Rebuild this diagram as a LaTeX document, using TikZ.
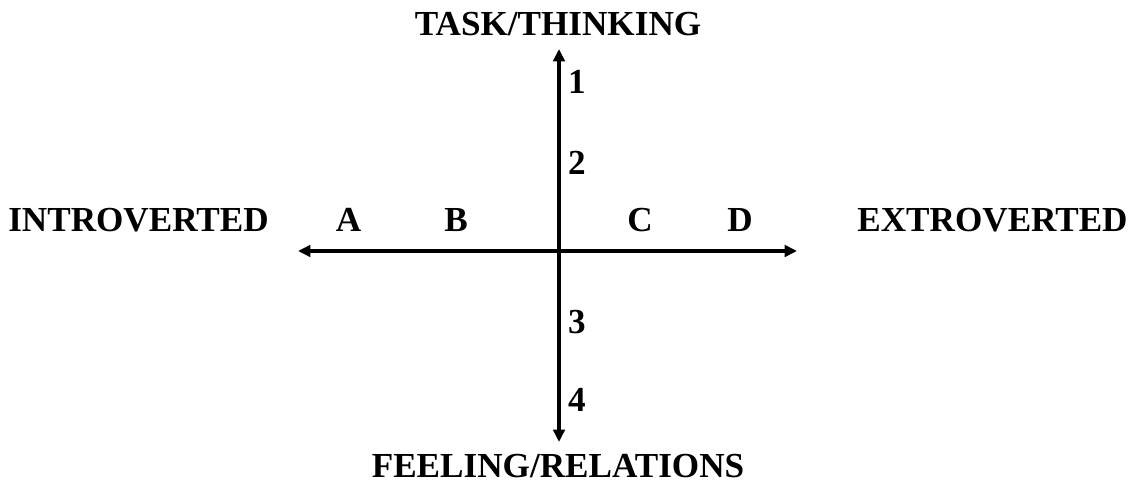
\documentclass[tikz,border=0pt]{standalone}
\usepackage{fontspec}
\setmainfont{Liberation Serif}
\usetikzlibrary{positioning, arrows.meta}
\tikzset{
    axislabel/.style={font=\bfseries\fontsize{20}{24}\selectfont, inner sep=0pt},
    ticklabel/.style={font=\bfseries\fontsize{20}{24}\selectfont, inner sep=0pt},
    axisarrow/.style={{Triangle[length=7pt, width=6.5pt]}-{Triangle[length=7pt, width=6.5pt]}, line width=2.6pt},
}
\begin{document}
\begin{tikzpicture}
    \useasboundingbox (0,0) rectangle (22.66,9.74);
    % Achsen
    \coordinate (top) at (11.18, 8.76);
    \coordinate (bottom) at (11.18, 0.90);
    \coordinate (west) at (5.96, 4.72);
    \coordinate (east) at (15.94, 4.72);
    \draw[axisarrow] (west) -- (east);
    \draw[axisarrow] (top) -- (bottom);

    % Beschriftung der Achsen
    \node[axislabel] (task) at (11.16, 9.26) {TASK/THINKING};
    \node[axislabel] (feeling) at (11.16, 0.42) {FEELING/RELATIONS};
    \node[axislabel] (intro) at (2.77, 5.34) {INTROVERTED};
    \node[axislabel] (extro) at (19.85, 5.34) {EXTROVERTED};

    % Stufen horizontal
    \node[ticklabel] (a) at (6.97, 5.34) {A};
    \node[ticklabel] (b) at (9.12, 5.34) {B};
    \node[ticklabel] (c) at (12.80, 5.34) {C};
    \node[ticklabel] (d) at (14.80, 5.34) {D};

    % Stufen vertikal
    \node[ticklabel] (one) at (11.54, 8.10) {1};
    \node[ticklabel] (two) at (11.54, 6.48) {2};
    \node[ticklabel] (three) at (11.54, 3.30) {3};
    \node[ticklabel] (four) at (11.54, 1.74) {4};
\end{tikzpicture}
\end{document}
